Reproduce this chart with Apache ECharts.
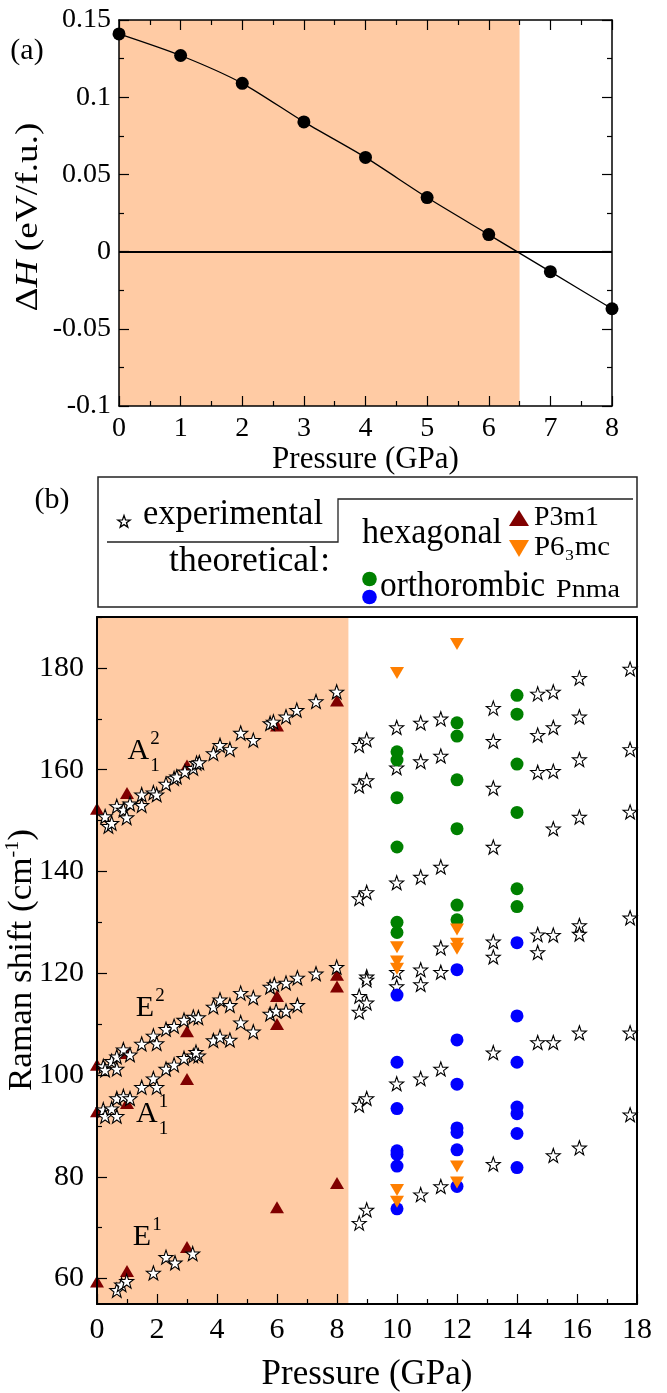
<!DOCTYPE html>
<html><head><meta charset="utf-8">
<script src="https://cdn.jsdelivr.net/npm/echarts@6/dist/echarts.min.js"></script>
<style>html,body{margin:0;padding:0;background:#fff}#c{width:667px;height:1393px}</style>
</head><body><div id="c"></div>
<script>
// ---------------- data: panel (a) ----------------
const pressureA = [0, 1, 2, 3, 4, 5, 6, 7, 8];
const deltaH = [0.141, 0.127, 0.109, 0.084, 0.061, 0.035, 0.011, -0.013, -0.037];
const shadeA = [0, 6.5];

// ---------------- data: panel (b) ----------------
const shadeB = [0, 8.38];
const yTicksB = [60, 80, 100, 120, 140, 160, 180];
const yMinorB = [70, 90, 110, 130, 150, 170, 190];

// experimental (stars): [pressure, Raman shift]
const expA12 = [[0.27,150.8],[0.38,148.9],[0.49,149.5],[0.66,152.8],[0.88,152.1],[0.99,150.6],[1.1,153.3],[1.49,155.1],[1.49,153.0],[1.88,155.5],[1.99,155.1],[2.3,157.2],[2.57,158.3],[2.66,158.6],[2.93,159.6],[3.21,160.3],[3.32,161.3],[3.41,161.4],[3.88,163.2],[4.1,164.8],[4.43,164.0],[4.79,167.2],[5.21,165.8],[5.77,169.1],[5.88,169.4],[6.3,170.4],[6.66,171.7],[7.3,173.4],[7.99,175.3]];
const expE2 = [[0.21,101.7],[0.27,101.0],[0.49,102.7],[0.66,103.6],[0.66,101.2],[0.88,105.0],[1.1,104.0],[1.49,106.1],[1.88,107.7],[1.99,106.2],[2.3,109.0],[2.57,109.6],[2.9,110.8],[3.21,111.4],[3.38,111.3],[3.88,113.4],[4.1,114.8],[4.43,113.7],[4.79,116.1],[5.21,115.2],[5.77,117.3],[5.91,117.8],[6.3,118.1],[6.68,119.1],[7.3,119.9],[7.99,121.2]];
const expA11 = [[0.21,93.2],[0.27,91.9],[0.49,93.4],[0.66,91.9],[0.66,95.4],[0.88,95.8],[1.1,95.4],[1.49,97.6],[1.88,99.3],[1.99,97.6],[2.3,101.2],[2.57,102.0],[2.9,103.3],[3.21,103.8],[3.38,103.8],[3.3,104.5],[3.88,106.8],[4.1,107.5],[4.43,106.9],[4.79,110.3],[5.21,108.5],[5.77,112.0],[5.97,112.6],[6.3,112.6],[6.68,113.7]];
const expE1 = [[0.66,57.7],[0.82,58.8],[0.99,59.5],[1.88,61.1],[2.3,64.2],[2.6,63.1],[3.19,64.9]];
const expHigh = [[8.74,164.8],[8.99,165.9],[8.74,156.8],[8.99,157.9],[8.74,134.7],[8.99,135.9],[8.74,115.5],[8.99,119.3],[8.99,118.7],[8.99,114.2],[8.74,112.4],[8.74,94.1],[8.99,95.4],[8.74,70.9],[8.99,73.5],
 [9.99,168.3],[9.99,160.4],[9.99,137.8],[9.99,120.2],[9.99,117.4],[9.99,98.3],
 [10.79,169.2],[10.79,161.6],[10.79,138.9],[10.79,120.7],[10.79,117.8],[10.79,99.3],[10.79,76.5],
 [11.46,170.0],[11.46,162.7],[11.46,140.9],[11.46,125.0],[11.46,120.2],[11.46,101.2],[11.46,78.1],
 [13.21,172.1],[13.21,165.6],[13.21,156.4],[13.21,144.8],[13.21,126.2],[13.21,123.2],[13.21,104.4],[13.21,82.5],
 [14.69,174.9],[14.69,166.8],[14.69,159.5],[14.69,127.6],[14.69,124.1],[14.69,106.4],
 [15.21,175.3],[15.21,168.3],[15.21,159.7],[15.21,148.4],[15.21,127.5],[15.21,106.4],[15.21,84.2],
 [16.08,178.0],[16.08,170.4],[16.08,162.0],[16.08,150.7],[16.08,129.4],[16.08,127.7],[16.08,108.3],[16.08,85.7],
 [17.77,179.8],[17.77,164.0],[17.77,151.7],[17.77,130.9],[17.77,108.3],[17.77,92.2]];

// theoretical
const p3m1 = [[0,152.3],[0,102.0],[0,92.9],[0,59.4],[1,155.4],[1,104.3],[1,94.5],[1,61.5],[3,160.8],[3,108.6],[3,99.2],[3,66.2],[6,168.7],[6,115.5],[6,110.0],[6,74.0],[8,173.6],[8,119.7],[8,117.4],[8,78.8]];
const p63mc = [[10,179.0],[10,125.1],[10,122.3],[10,120.9],[10,77.4],[10,75.1],[12,184.7],[12,128.6],[12,125.8],[12,124.8],[12,82.0],[12,78.9]];
const pnmaGreen = [[10,163.5],[10,161.9],[10,154.5],[10,144.8],[10,130.0],[10,128.0],[12,169.2],[12,166.6],[12,158.0],[12,148.4],[12,133.4],[12,130.5],[14,174.6],[14,170.9],[14,161.1],[14,151.6],[14,136.6],[14,133.1]];
const pnmaBlue = [[10,115.7],[10,102.5],[10,93.4],[10,85.1],[10,84.4],[10,82.1],[10,73.7],[12,120.7],[12,106.9],[12,98.2],[12,89.6],[12,88.7],[12,85.3],[12,78.1],[14,126.0],[14,111.6],[14,102.5],[14,93.7],[14,92.4],[14,88.5],[14,81.8]];

// mode labels (position in data coordinates)
const modeLabels = [
  {main: 'A', sup: '2', sub: '1', at: [1.38, 163.6]},
  {main: 'E', sup: '2', sub: '',  at: [1.6, 113.2]},
  {main: 'A', sup: '1', sub: '1', at: [1.66, 92.3]},
  {main: 'E', sup: '1', sub: '',  at: [1.5, 68.2]}
];

// ---------------- styling ----------------
const SERIF = 'Liberation Serif';
const BLACK = '#000';
const SHADE = '#ffcba4';
const DARKRED = '#800000';
const ORANGE = '#ff7f00';
const GREEN = '#008000';
const BLUE = '#0000ff';

function starPoints(cx, cy, R, r) {
  const pts = [];
  for (let i = 0; i < 10; i++) {
    const rr = i % 2 === 0 ? R : r;
    const a = -Math.PI / 2 + i * Math.PI / 5;
    pts.push([cx + rr * Math.cos(a), cy + rr * Math.sin(a)]);
  }
  return pts;
}
const STAR_PATH = 'M' + starPoints(0, 0, 10, 4).map(p => p[0].toFixed(3) + ',' + p[1].toFixed(3)).join(' L') + ' Z';

const tickLine = {color: BLACK, width: 1.2};
const noSplit = {splitLine: {show: false}, minorSplitLine: {show: false}};
const expStars = [].concat(expA12, expE2, expA11, expE1, expHigh);

const option = {
  animation: false,
  backgroundColor: '#fff',
  grid: [
    {left: 119, top: 20, width: 493, height: 386, show: false},
    {left: 97, top: 617, width: 540, height: 690, show: false}
  ],
  xAxis: [
    Object.assign({gridIndex: 0, type: 'value', min: 0, max: 8, interval: 1, position: 'bottom', z: 10,
      axisLine: {show: true, onZero: false, lineStyle: {color: BLACK, width: 1.5}},
      axisTick: {show: true, inside: true, length: 10, lineStyle: tickLine},
      minorTick: {show: true, splitNumber: 2, length: 5, lineStyle: tickLine},
      axisLabel: {show: true, color: BLACK, fontFamily: SERIF, fontSize: 28, margin: 9},
      name: 'Pressure (GPa)', nameLocation: 'middle', nameGap: 23,
      nameTextStyle: {color: BLACK, fontFamily: SERIF, fontSize: 31}}, noSplit),
    Object.assign({gridIndex: 0, type: 'value', min: 0, max: 8, interval: 1, position: 'top', z: 10,
      axisLine: {show: true, onZero: false, lineStyle: {color: BLACK, width: 1.5}},
      axisTick: {show: true, inside: true, length: 10, lineStyle: tickLine},
      minorTick: {show: true, splitNumber: 2, length: 5, lineStyle: tickLine},
      axisLabel: {show: false}}, noSplit),
    Object.assign({gridIndex: 1, type: 'value', min: 0, max: 18, interval: 2, position: 'bottom', z: 10,
      axisLine: {show: true, onZero: false, lineStyle: {color: BLACK, width: 2}},
      axisTick: {show: true, inside: true, length: 10, lineStyle: tickLine},
      minorTick: {show: true, splitNumber: 2, length: 5, lineStyle: tickLine},
      axisLabel: {show: true, color: BLACK, fontFamily: SERIF, fontSize: 30, margin: 11},
      name: 'Pressure (GPa)', nameLocation: 'middle', nameGap: 53,
      nameTextStyle: {color: BLACK, fontFamily: SERIF, fontSize: 35}}, noSplit),
    Object.assign({gridIndex: 1, type: 'value', min: 0, max: 18, interval: 2, position: 'top', z: 10,
      axisLine: {show: true, onZero: false, lineStyle: {color: BLACK, width: 2}},
      axisTick: {show: false}, axisLabel: {show: false}}, noSplit)
  ],
  yAxis: [
    Object.assign({gridIndex: 0, type: 'value', min: -0.1, max: 0.15, interval: 0.05, position: 'left', z: 10,
      axisLine: {show: true, onZero: false, lineStyle: {color: BLACK, width: 1.5}},
      axisTick: {show: true, inside: true, length: 10, lineStyle: tickLine},
      minorTick: {show: true, splitNumber: 2, length: 5, lineStyle: tickLine},
      axisLabel: {show: true, color: BLACK, fontFamily: SERIF, fontSize: 28, margin: 8}}, noSplit),
    Object.assign({gridIndex: 0, type: 'value', min: -0.1, max: 0.15, interval: 0.05, position: 'right', z: 10,
      axisLine: {show: true, onZero: false, lineStyle: {color: BLACK, width: 1.5}},
      axisTick: {show: true, inside: true, length: 10, lineStyle: tickLine},
      minorTick: {show: true, splitNumber: 2, length: 5, lineStyle: tickLine},
      axisLabel: {show: false}}, noSplit),
    Object.assign({gridIndex: 1, type: 'value', min: 55, max: 190, position: 'left', z: 10,
      axisLine: {show: true, onZero: false, lineStyle: {color: BLACK, width: 2}},
      axisTick: {show: true, inside: true, length: 10, lineStyle: tickLine, customValues: yTicksB},
      axisLabel: {show: true, color: BLACK, fontFamily: SERIF, fontSize: 30, margin: 13, customValues: yTicksB}}, noSplit),
    Object.assign({gridIndex: 1, type: 'value', min: 55, max: 190, position: 'left', z: 10,
      axisLine: {show: false, onZero: false},
      axisTick: {show: true, inside: true, length: 5, lineStyle: tickLine, customValues: yMinorB},
      axisLabel: {show: false}}, noSplit),
    Object.assign({gridIndex: 1, type: 'value', min: 55, max: 190, position: 'right', z: 10,
      axisLine: {show: true, onZero: false, lineStyle: {color: BLACK, width: 2}},
      axisTick: {show: false}, axisLabel: {show: false}}, noSplit)
  ],
  series: [
    {type: 'line', xAxisIndex: 0, yAxisIndex: 0, data: [], z: 1, silent: true,
      markArea: {silent: true, itemStyle: {color: SHADE}, data: [[{xAxis: shadeA[0]}, {xAxis: shadeA[1]}]]}},
    {type: 'line', xAxisIndex: 0, yAxisIndex: 0, z: 5, silent: true, smooth: 0.25,
      data: pressureA.map((p, i) => [p, deltaH[i]]),
      symbol: 'circle', symbolSize: 13, itemStyle: {color: BLACK, opacity: 1},
      lineStyle: {color: BLACK, width: 1.3},
      markLine: {silent: true, symbol: ['none', 'none'], label: {show: false},
        lineStyle: {color: BLACK, type: 'solid', width: 2}, data: [{yAxis: 0}]}},
    {type: 'line', xAxisIndex: 2, yAxisIndex: 2, data: [], z: 1, silent: true,
      markArea: {silent: true, itemStyle: {color: SHADE}, data: [[{xAxis: shadeB[0]}, {xAxis: shadeB[1]}]]}},
    {type: 'scatter', xAxisIndex: 2, yAxisIndex: 2, z: 3, silent: true, data: p3m1,
      symbol: 'triangle', symbolSize: [14, 12], itemStyle: {color: DARKRED, opacity: 1}},
    {type: 'scatter', xAxisIndex: 2, yAxisIndex: 2, z: 4, silent: true, data: expStars,
      symbol: 'path://' + STAR_PATH, symbolSize: 14,
      itemStyle: {color: '#fff', borderColor: BLACK, borderWidth: 1.1, opacity: 1}},
    {type: 'scatter', xAxisIndex: 2, yAxisIndex: 2, z: 5, silent: true, data: pnmaGreen,
      symbol: 'circle', symbolSize: 13, itemStyle: {color: GREEN, opacity: 1}},
    {type: 'scatter', xAxisIndex: 2, yAxisIndex: 2, z: 5, silent: true, data: pnmaBlue,
      symbol: 'circle', symbolSize: 13, itemStyle: {color: BLUE, opacity: 1}},
    {type: 'scatter', xAxisIndex: 2, yAxisIndex: 2, z: 6, silent: true, data: p63mc,
      symbol: 'triangle', symbolRotate: 180, symbolSize: [14, 12], itemStyle: {color: ORANGE, opacity: 1}}
  ]
};

const chart = echarts.init(document.getElementById('c'), null, {renderer: 'canvas'});
chart.setOption(option);

// ---------- text helpers (layout only) ----------
const mctx = document.createElement('canvas').getContext('2d');
function textW(t, fs, italic) { mctx.font = (italic ? 'italic ' : '') + fs + 'px "' + SERIF + '"'; return mctx.measureText(t).width; }
function txt(t, x, y, fs, align, targetW, extra, italic) {
  const sx = targetW ? targetW / textW(t, fs, italic) : 1;
  return Object.assign({type: 'text', x: x, y: y, scaleX: sx, silent: true, z: 100,
    style: {text: t, fontFamily: SERIF, fontSize: fs, fontStyle: italic ? 'italic' : 'normal', fill: BLACK,
      align: align || 'left', verticalAlign: 'middle', textAlign: align || 'left', textVerticalAlign: 'middle'}}, extra || {});
}
const MID = 0.3375;  // baseline -> middle offset (fraction of font size)

// vertical (bottom-to-top) label made of pieces, centred at (cx, cy), scaled to total length L
function verticalLabel(pieces, cx, cy, L) {
  const widths = pieces.map(p => textW(p.t, p.fs, p.it));
  const total = widths.reduce((a, b) => a + b, 0);
  const s = L / total;
  let pos = cy + L / 2;
  const out = [];
  pieces.forEach((p, i) => {
    out.push(txt(p.t, cx - (p.dx || 0), pos, p.fs, 'left', null, {rotation: Math.PI / 2, scaleX: s}, p.it));
    pos -= widths[i] * s;
  });
  return out;
}

const g = [];
// panel tags
g.push(txt('(a)', 27, 51, 30, 'center'));
g.push(txt('(b)', 52, 500, 30, 'center'));

// y-axis titles
verticalLabel([{t: 'Δ', fs: 31}, {t: 'H', fs: 31, it: true}, {t: ' (eV/f.u.)', fs: 31}], 29, 217, 189).forEach(e => g.push(e));
verticalLabel([{t: 'Raman shift (cm', fs: 33}, {t: '-1', fs: 19, dx: 9}, {t: ')', fs: 33}], 22, 960, 262).forEach(e => g.push(e));

// legend box (b)
g.push({type: 'rect', silent: true, z: 100, shape: {x: 98, y: 477, width: 539, height: 130},
  style: {fill: 'none', stroke: '#222', lineWidth: 1.5}});
g.push({type: 'polyline', silent: true, z: 100, shape: {points: [[107, 542], [338, 542], [338, 499], [633, 499]]},
  style: {fill: 'none', stroke: '#222', lineWidth: 1.3}});
g.push({type: 'polygon', silent: true, z: 100, shape: {points: starPoints(124, 522, 6.5, 2.6)},
  style: {fill: '#fff', stroke: BLACK, lineWidth: 1.3}});
g.push(txt('experimental', 143, 527 - MID * 35, 35, 'left', 180));
g.push(txt('theoretical', 319, 574 - MID * 35, 35, 'right', 150));
g.push(txt(':', 325, 574 - MID * 35, 35, 'center'));
g.push(txt('hexagonal', 362, 545.5 - MID * 35, 35, 'left', 140));
g.push(txt('orthorombic', 380, 599 - MID * 35, 35, 'left', 165));
g.push(txt('P3m1', 534, 527 - MID * 27, 27, 'left', 65));
g.push(txt('P6₃mc', 534, 557 - MID * 27, 27, 'left', 76));
g.push(txt('Pnma', 556, 599 - MID * 25, 25, 'left', 64));
g.push({type: 'polygon', silent: true, z: 100, shape: {points: [[509, 526], [529, 526], [519, 510]]}, style: {fill: DARKRED}});
g.push({type: 'polygon', silent: true, z: 100, shape: {points: [[509, 540], [529, 540], [519, 557]]}, style: {fill: ORANGE}});
g.push({type: 'circle', silent: true, z: 100, shape: {cx: 369.5, cy: 579, r: 7.3}, style: {fill: GREEN}});
g.push({type: 'circle', silent: true, z: 100, shape: {cx: 369.5, cy: 597, r: 7.3}, style: {fill: BLUE}});

// mode labels placed through the chart's own scales
modeLabels.forEach(m => {
  const p = chart.convertToPixel({seriesIndex: 4}, m.at);
  const half = textW(m.main, 30) / 2;
  g.push(txt(m.main, p[0], p[1], 30, 'center'));
  if (m.sup) g.push(txt(m.sup, p[0] + half + 1, p[1] - 12, 19, 'left'));
  if (m.sub) g.push(txt(m.sub, p[0] + half + 1, p[1] + 15, 19, 'left'));
});

chart.setOption({graphic: {elements: g}});
</script></body></html>
